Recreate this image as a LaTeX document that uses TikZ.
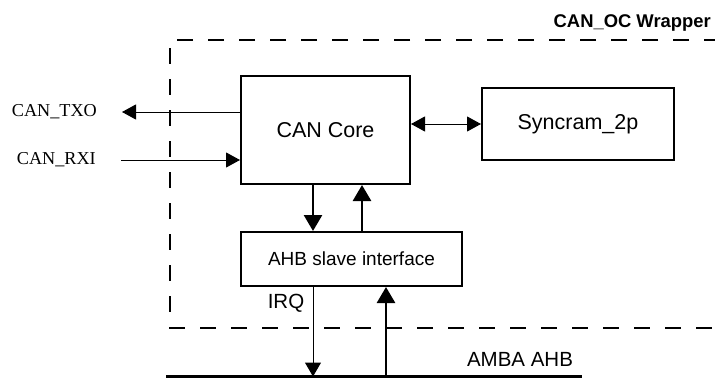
\documentclass[tikz,border=0pt]{standalone}
\usepackage{fontspec}
\setmainfont{Liberation Serif}
\setsansfont{Liberation Sans}
\usetikzlibrary{arrows.meta,calc}

\tikzset{
	block/.style={draw, line width=2pt, minimum width=#1, inner sep=0pt, font=\sffamily\fontsize{21.5}{26}\selectfont},
	sig/.style={line width=1pt, -{Triangle[length=14pt,width=15pt]}},
	dsig/.style={line width=1pt, {Triangle[length=14pt,width=15pt]}-{Triangle[length=14pt,width=15pt]}},
	bussig/.style={line width=2.7pt, -{Triangle[length=16pt,width=18pt]}},
	pinlabel/.style={font=\rmfamily\fontsize{18.2}{22}\selectfont, inner sep=0pt},
	txt/.style={font=\sffamily\fontsize{20.5}{24}\selectfont, inner sep=0pt},
}

\begin{document}
\begin{tikzpicture}[x=1pt,y=-1pt]

\useasboundingbox (0,0) rectangle (715,378);

\begin{scope}
	\coordinate (w0) at (170,40);
	\coordinate (w1) at (720,40);
	\coordinate (w2) at (720,328);
	\coordinate (w3) at (170,328);
	%
	\coordinate (txoend) at (122,112);
	\coordinate (rxistart) at (121,160);
	\coordinate (busL) at (166,376.5);
	\coordinate (busR) at (582,376.5);
	\coordinate (irqend) at (313,376.5);
	\coordinate (upstart) at (386,376.5);
\end{scope}

\node[block=169pt, minimum height=108pt] (core) at (325.5,130) {CAN Core};
\node[block=192pt, minimum height=72pt] (syncram) at (578,124) {Syncram\_2p};
\node[block=221pt, minimum height=54pt, font=\sffamily\fontsize{19}{23}\selectfont] (ahb) at (351.5,259) {AHB slave interface};

\node[pinlabel, anchor=east] (txo) at (97,112) {CAN\_TXO};
\node[pinlabel, anchor=east] (rxi) at (96,160) {CAN\_RXI};
\node[txt, font=\sffamily\bfseries\fontsize{18.4}{22}\selectfont, anchor=east] (wrapper) at (711,23) {CAN\_OC Wrapper};
\node[txt] (irq) at (286,303) {IRQ};
\node[txt] (amba) at (520,359) {AMBA AHB};

\draw[line width=2.3pt, dash pattern=on 16pt off 15pt] (w1) -- (w0) -- (w3) -- (w2);

\draw[sig] (core.west |- txoend) -- (txoend);
\draw[sig] (rxistart) -- (core.west |- rxistart);
\draw[dsig] (core.east |- syncram.west) -- (syncram.west);

\draw[bussig] ([xshift=-12.5pt]core.south) -- ([xshift=-38.5pt]ahb.north);
\draw[bussig] ([xshift=10.5pt]ahb.north) -- ([xshift=36.5pt]core.south);

\draw[sig, -{Triangle[length=14pt,width=16pt]}] (ahb.south -| irqend) -- (irqend);
\draw[bussig] (upstart) -- (ahb.south -| upstart);

\draw[line width=3pt] (busL) -- (busR);

\end{tikzpicture}
\end{document}
